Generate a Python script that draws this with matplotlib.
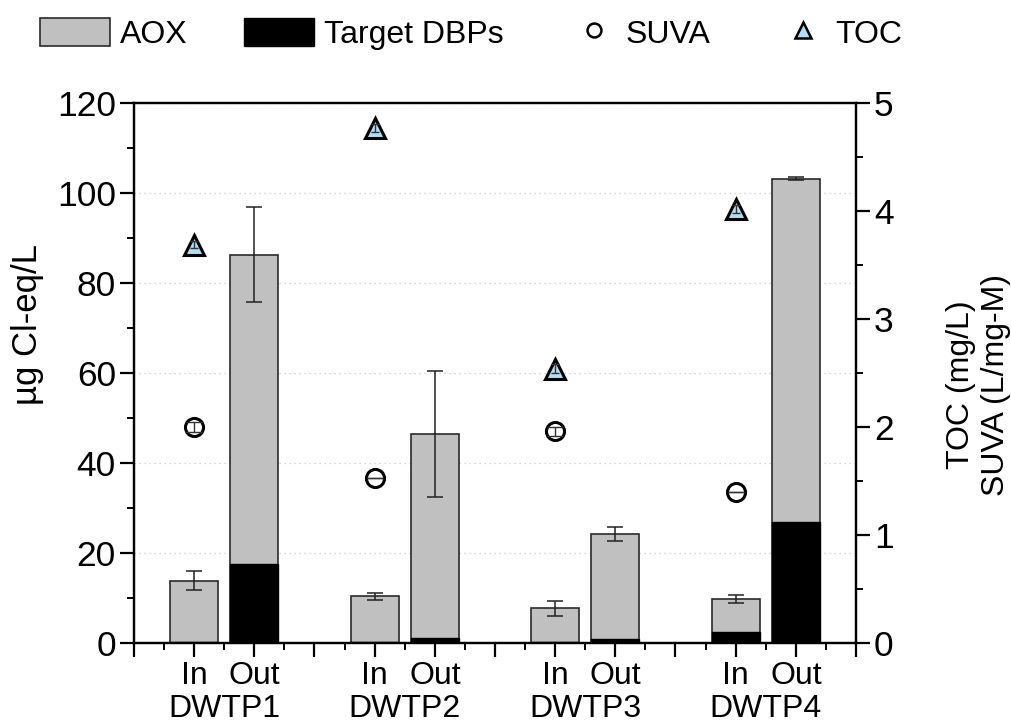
import numpy as np
import matplotlib.pyplot as plt
from matplotlib.patches import Patch
from matplotlib.lines import Line2D
from matplotlib.transforms import blended_transform_factory

plt.rcParams['font.family'] = ['Liberation Sans', 'DejaVu Sans']

# plants and sampling points
plants = ['DWTP1', 'DWTP2', 'DWTP3', 'DWTP4']
points = ['In', 'Out']

# AOX (ug Cl-eq/L), In then Out for each plant
aox_in = [13.8, 10.4, 7.7, 9.8]
aox_in_err = [2.1, 0.8, 1.6, 0.9]
aox_out = [86.3, 46.5, 24.2, 103.2]
aox_out_err = [10.6, 14.0, 1.5, 0.4]

# target DBPs expressed as Cl-eq
dbp_in = [0.3, 0.2, 0.2, 2.4]
dbp_out = [17.6, 1.1, 0.9, 26.8]

# raw water quality (In only)
toc = [3.69, 4.77, 2.54, 4.02]
toc_err = [0.03, 0.04, 0.04, 0.04]
suva = [2.00, 1.53, 1.96, 1.40]
suva_err = [0.05, 0.0, 0.04, 0.0]

grey = '#c0c0c0'
blue = '#b4def5'

x_in = np.array([1, 4, 7, 10])
x_out = x_in + 1

fig = plt.figure(figsize=(10.11, 7.22), dpi=100)
ax = fig.add_axes([0.1325, 0.1094, 0.7142, 0.7479])
ax2 = ax.twinx()

ax.set_axisbelow(True)
ax.yaxis.grid(True, linestyle=(0, (1, 3)), color='#c8c8c8', linewidth=0.9)

# AOX bars with target DBPs stacked inside from zero
for xs, a, e, d in [(x_in, aox_in, aox_in_err, dbp_in), (x_out, aox_out, aox_out_err, dbp_out)]:
    ax.bar(xs, a, width=0.8, color=grey, edgecolor='#2a2a2a', linewidth=1.2, zorder=2)
    ax.bar(xs, d, width=0.8, color='black', edgecolor='black', linewidth=1.0, zorder=3)
    ax.errorbar(xs, a, yerr=e, fmt='none', ecolor='#222222', elinewidth=1.1,
                capsize=6, capthick=1.1, zorder=4)

# TOC and SUVA on the right axis, error bars drawn over the markers
ax2.plot(x_in, suva, linestyle='none', marker='o', ms=13, mfc='white', mec='black', mew=2.2, zorder=5)
ax2.errorbar(x_in, suva, yerr=suva_err, fmt='none', ecolor='#333333', elinewidth=1,
             capsize=6, capthick=1, zorder=6)
ax2.plot(x_in, toc, linestyle='none', marker='^', ms=15, mfc=blue, mec='black', mew=2.2, zorder=5)
ax2.errorbar(x_in, toc, yerr=toc_err, fmt='none', ecolor='#333333', elinewidth=1,
             capsize=3, capthick=1, zorder=6)

ax.set_xlim(0, 12)
ax.set_ylim(0, 120)
ax2.set_ylim(0, 5)

ax.set_yticks(np.arange(0, 121, 20))
ax.set_yticks(np.arange(10, 120, 20), minor=True)
ax2.set_yticks(np.arange(0, 6, 1))
ax2.set_yticks(np.arange(0.5, 5, 1), minor=True)

ax.set_xticks(np.arange(0, 13, 1))
ax.set_xticks(np.arange(0.5, 12, 1), minor=True)
ax.set_xticklabels([])

for a in (ax, ax2):
    a.tick_params(which='major', direction='out', length=10, width=1.6, labelsize=25.5, pad=3)
    a.tick_params(which='minor', direction='out', length=5, width=1.4)
    for s in a.spines.values():
        s.set_linewidth(1.6)

# In / Out and plant names under the axis
trans = blended_transform_factory(ax.transData, ax.transAxes)
for i, name in enumerate(plants):
    ax.text(x_in[i], -0.034, points[0], transform=trans, ha='center', va='top', fontsize=23)
    ax.text(x_out[i], -0.034, points[1], transform=trans, ha='center', va='top', fontsize=23)
    ax.text(x_in[i] + 0.5, -0.094, name, transform=trans, ha='center', va='top', fontsize=23)

ax.set_ylabel('\u00b5g Cl-eq/L', fontsize=25, labelpad=10)
ax.yaxis.set_label_coords(-0.125, 0.59)
fig.text(0.968, 1 - 385 / 722, 'TOC (mg/L)\nSUVA (L/mg-M)', rotation=90, fontsize=23,
         ha='center', va='center', multialignment='center', linespacing=1.2)

# legend: bar patches and point markers as two groups
bar_handles = [
    Patch(facecolor=grey, edgecolor='#2a2a2a', linewidth=1.2, label='AOX'),
    Patch(facecolor='black', edgecolor='black', label='Target DBPs'),
]
point_handles = [
    Line2D([], [], linestyle='none', marker='o', ms=10, mfc='white', mec='black', mew=1.8, label='SUVA'),
    Line2D([], [], linestyle='none', marker='^', ms=11, mfc=blue, mec='black', mew=1.8, label='TOC'),
]
leg1 = fig.legend(handles=bar_handles, loc='upper left', bbox_to_anchor=(0.022, 1.0), ncol=2,
                  frameon=False, fontsize=23, handlelength=2.2, handleheight=1.0,
                  handletextpad=0.31, columnspacing=1.75, borderaxespad=0.15)
fig.legend(handles=point_handles, loc='upper left', bbox_to_anchor=(0.554, 1.0), ncol=2,
           frameon=False, fontsize=23, handlelength=1.0, handleheight=1.0,
           handletextpad=0.5, columnspacing=2.4, borderaxespad=0.15, numpoints=1)

fig.savefig('out.png', dpi=100)
